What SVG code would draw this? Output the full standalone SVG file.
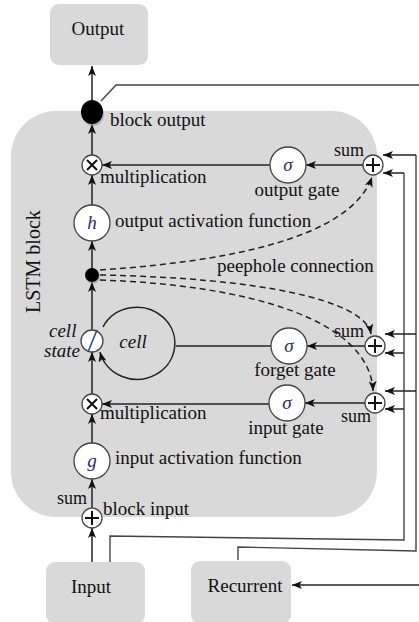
<svg xmlns="http://www.w3.org/2000/svg" width="419" height="622" viewBox="0 0 419 622" font-family="'Liberation Serif', 'DejaVu Serif', serif">
<style>
text{font-family:'Liberation Serif','DejaVu Serif',serif;font-size:19px;fill:#111}
.it{font-style:italic}
.sym{font-style:italic;fill:#1f2f5f}
.mid{text-anchor:middle}
.box{fill:#d9d9d9}
.node{fill:#fff;stroke:#444;stroke-width:1.3}
.op{stroke:#111;stroke-width:2;fill:none}
.ln{stroke:#222;stroke-width:1.5;fill:none}
.arr{stroke:#222;stroke-width:1.5;fill:none;marker-end:url(#ah)}
.dash{stroke:#222;stroke-width:1.5;fill:none;stroke-dasharray:6 4;marker-end:url(#ah)}
.thin{stroke:#444;stroke-width:1.4;fill:none}
</style>
<defs>
<marker id="ah" viewBox="0 0 10 8" refX="10" refY="4" markerWidth="10" markerHeight="8" markerUnits="userSpaceOnUse" orient="auto">
<path d="M0,0 L10,4 L0,8 L2.5,4 z" fill="#111"/>
</marker>
</defs>

<g id="lstm-block">
<rect x="11" y="111" width="366" height="406" rx="45" class="box"/>
<text transform="translate(40,313) rotate(-90)" style="font-size:20px">LSTM block</text>
</g>

<g id="output">
<rect x="50" y="4" width="98" height="61" rx="9" class="box"/>
<text x="98" y="35" class="mid">Output</text>
</g>
<g id="input">
<rect x="46" y="562" width="99" height="62" rx="9" class="box"/>
<text x="91" y="593" class="mid">Input</text>
</g>
<g id="recurrent">
<rect x="191" y="561" width="100" height="63" rx="9" class="box"/>
<text x="245" y="592" class="mid">Recurrent</text>
</g>

<g id="connectors">
<line x1="92" y1="100" x2="92" y2="66" class="arr"/>
<line x1="92" y1="155" x2="92" y2="124" class="arr"/>
<line x1="92" y1="205" x2="92" y2="175" class="arr"/>
<line x1="92" y1="268" x2="92" y2="241" class="arr"/>
<line x1="92" y1="330" x2="92" y2="282" class="arr"/>
<line x1="92" y1="394" x2="92" y2="352" class="arr"/>
<line x1="92" y1="443" x2="92" y2="414" class="arr"/>
<line x1="92" y1="508" x2="92" y2="479" class="arr"/>
<line x1="92" y1="562" x2="92" y2="528" class="arr"/>
<polyline points="101,101 116,85 419,85" class="thin"/>
<line x1="270" y1="165" x2="102" y2="165" class="arr"/>
<line x1="363" y1="165" x2="306" y2="165" class="arr"/>
<line x1="176" y1="346" x2="271" y2="346" class="ln"/>
<line x1="365" y1="346" x2="307" y2="346" class="arr"/>
<line x1="269" y1="404" x2="102" y2="404" class="arr"/>
<line x1="365" y1="403" x2="305" y2="403" class="arr"/>
<path d="M103,327 A38 36 0 1 1 100,352" class="arr"/>
<path d="M100,270 C220,262 350,240 372,177" class="dash"/>
<path d="M100,275 C260,278 365,300 371,334" class="dash"/>
<path d="M100,280 C250,285 370,320 373,391" class="dash"/>
<polyline points="110,562 110,536 404,540 404,173" class="thin"/>
<polyline points="238,560 238,547 416,551 416,155" class="thin"/>
<line x1="416" y1="155" x2="383" y2="155" class="arr"/>
<line x1="404" y1="173" x2="383" y2="173" class="arr"/>
<line x1="416" y1="334" x2="385" y2="334" class="arr"/>
<line x1="404" y1="353" x2="385" y2="353" class="arr"/>
<line x1="416" y1="391" x2="385" y2="391" class="arr"/>
<line x1="404" y1="409" x2="385" y2="409" class="arr"/>
<line x1="419" y1="585" x2="292" y2="585" class="arr"/>
</g>

<g id="block-output">
<ellipse cx="93" cy="114" rx="11" ry="12" fill="#9a9a9a" opacity="0.6"/>
<ellipse cx="92" cy="112" rx="11" ry="12" fill="#000"/>
<text x="110" y="126">block output</text>
</g>

<g id="out-mult">
<circle cx="92" cy="165" r="10" class="node"/>
<path d="M87,160 L97,170 M97,160 L87,170" class="op"/>
<text x="100" y="183">multiplication</text>
</g>

<g id="output-gate">
<circle cx="288" cy="165" r="18" class="node"/>
<text x="288" y="171" class="sym mid">σ</text>
<text x="297" y="196" class="mid">output gate</text>
</g>

<g id="out-sum">
<text x="334" y="156" style="font-size:18px">sum</text>
<circle cx="373" cy="165" r="10" class="node"/>
<path d="M373,158 V172 M366,165 H380" class="op"/>
</g>

<g id="h">
<circle cx="92" cy="223" r="18" class="node"/>
<text x="92" y="229" class="sym mid">h</text>
<text x="115" y="227">output activation function</text>
</g>

<g id="peephole">
<circle cx="93" cy="277" r="7" fill="#9a9a9a" opacity="0.6"/>
<circle cx="92" cy="275" r="7" fill="#000"/>
<text x="217" y="272">peephole connection</text>
</g>

<g id="cell-state">
<circle cx="92" cy="341" r="11" class="node"/>
<line x1="88" y1="352" x2="97" y2="330" stroke="#1f4e9c" stroke-width="1.6"/>
<text x="49" y="337" class="it">cell</text>
<text x="44" y="357" class="it">state</text>
</g>

<g id="cell">
<text x="133" y="348" class="it mid">cell</text>
</g>

<g id="forget-gate">
<circle cx="289" cy="346" r="18" class="node"/>
<text x="289" y="352" class="sym mid">σ</text>
<text x="295" y="376" class="mid">forget gate</text>
</g>

<g id="forget-sum">
<text x="334" y="337" style="font-size:18px">sum</text>
<circle cx="375" cy="346" r="10" class="node"/>
<path d="M375,339 V353 M368,346 H382" class="op"/>
</g>

<g id="in-mult">
<circle cx="92" cy="404" r="10" class="node"/>
<path d="M87,399 L97,409 M97,399 L87,409" class="op"/>
<text x="100" y="419">multiplication</text>
</g>

<g id="input-gate">
<circle cx="287" cy="403" r="18" class="node"/>
<text x="287" y="409" class="sym mid">σ</text>
<text x="286" y="434" class="mid">input gate</text>
</g>

<g id="in-sum">
<circle cx="375" cy="403" r="10" class="node"/>
<path d="M375,396 V410 M368,403 H382" class="op"/>
<text x="341" y="422" style="font-size:18px">sum</text>
</g>

<g id="g">
<circle cx="92" cy="461" r="18" class="node"/>
<text x="92" y="467" class="sym mid">g</text>
<text x="115" y="464">input activation function</text>
</g>

<g id="block-input">
<circle cx="92" cy="518" r="10" class="node"/>
<path d="M92,511 V525 M85,518 H99" class="op"/>
<text x="57" y="504" style="font-size:18px">sum</text>
<text x="103" y="515">block input</text>
</g>
</svg>
